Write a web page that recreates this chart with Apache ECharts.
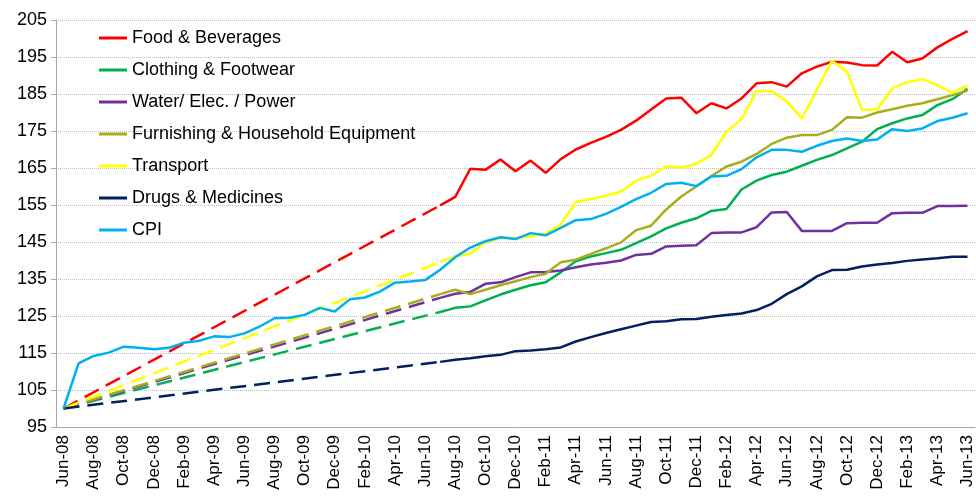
<!DOCTYPE html>
<html>
<head>
<meta charset="utf-8">
<script src="https://cdn.jsdelivr.net/npm/echarts@6/dist/echarts.min.js"></script>
<style>
html,body{margin:0;padding:0;background:#fff;}
#chart{width:976px;height:496px;}
</style>
</head>
<body>
<div id="chart"></div>
<script>
var categories = ["Jun-08","Jul-08","Aug-08","Sep-08","Oct-08","Nov-08","Dec-08","Jan-09","Feb-09","Mar-09","Apr-09","May-09",
"Jun-09","Jul-09","Aug-09","Sep-09","Oct-09","Nov-09","Dec-09","Jan-10","Feb-10","Mar-10","Apr-10","May-10",
"Jun-10","Jul-10","Aug-10","Sep-10","Oct-10","Nov-10","Dec-10","Jan-11","Feb-11","Mar-11","Apr-11","May-11",
"Jun-11","Jul-11","Aug-11","Sep-11","Oct-11","Nov-11","Dec-11","Jan-12","Feb-12","Mar-12","Apr-12","May-12",
"Jun-12","Jul-12","Aug-12","Sep-12","Oct-12","Nov-12","Dec-12","Jan-13","Feb-13","Mar-13","Apr-13","May-13","Jun-13"];

var yTicks = [95,105,115,125,135,145,155,165,175,185,195,205];

// Base value at Jun-08 (dashed link start) and monthly data from Jul-10 to Jun-13
var baseValue = 100;
var firstDataIndex = 25; // Jul-10

var food = [154.9,157.2,164.8,164.5,167.3,164.1,167.0,163.7,167.4,170.0,171.8,173.4,
175.3,177.8,180.8,183.8,184.0,179.8,182.5,181.1,183.8,187.9,188.2,187.0,
190.6,192.4,193.7,193.5,192.8,192.7,196.4,193.6,194.6,197.6,199.9,202.0];

var clothing = [126.1,127.2,127.6,129.2,130.8,132.1,133.3,134.1,136.8,139.8,141.1,142.0,
142.9,144.7,146.5,148.7,150.2,151.4,153.4,153.9,159.2,161.6,163.1,164.0,
165.6,167.2,168.5,170.3,172.1,175.5,177.1,178.4,179.3,182.0,183.6,186.4];

var water = [129.9,131.0,131.5,133.7,134.1,135.5,136.8,136.9,137.3,138.2,138.9,139.4,
140.0,141.5,141.8,143.8,144.0,144.1,147.4,147.6,147.6,149.0,153.0,153.1,
148.0,148.0,148.0,150.1,150.2,150.2,152.8,152.9,152.9,154.7,154.7,154.8];

var furnishing = [130.9,132.1,130.9,132.1,133.3,134.4,135.5,136.4,139.5,140.2,141.8,143.3,
144.9,148.2,149.4,153.8,157.3,160.0,162.8,165.4,166.7,168.8,171.5,173.2,
173.9,173.9,175.3,178.7,178.6,180.0,180.9,181.8,182.5,183.6,184.7,185.9];

var transport = [139.6,141.1,141.8,144.9,146.1,146.1,146.5,147.2,149.7,155.8,156.6,157.5,
158.6,161.6,162.9,165.4,165.1,166.1,168.5,174.8,178.2,185.8,185.8,183.0,
178.4,186.1,194.0,191.0,180.7,180.9,186.5,188.2,189.0,187.4,185.4,187.2];

var drugs = [112.6,113.2,113.6,114.1,114.5,115.5,115.7,116.0,116.5,118.1,119.3,120.4,
121.4,122.4,123.4,123.6,124.1,124.2,124.8,125.3,125.7,126.6,128.3,130.9,
133.0,135.7,137.4,137.5,138.4,138.9,139.3,139.9,140.3,140.6,141.0,141.0];

var cpi = [100,112.2,114.2,115.1,116.7,116.4,116.0,116.4,117.8,118.3,119.5,119.3,
120.3,122.1,124.4,124.5,125.3,127.2,126.2,129.5,130.0,131.6,134.0,134.3,134.7,
137.5,140.9,143.5,145.2,146.3,145.8,147.4,146.8,148.8,150.9,151.2,152.6,
154.5,156.6,158.3,160.7,161.0,160.1,162.7,162.9,164.7,167.9,169.9,169.9,
169.4,171.0,172.3,173.0,172.3,172.7,175.5,175.0,175.7,177.7,178.6,179.8];

var seriesDefs = [
  {name:"Food & Beverages", data:food, color:"#FF0000"},
  {name:"Clothing & Footwear", data:clothing, color:"#00B050"},
  {name:"Water/ Elec. / Power", data:water, color:"#7030A0"},
  {name:"Furnishing & Household Equipment", data:furnishing, color:"#A8AD1E"},
  {name:"Transport", data:transport, color:"#FFFF00"},
  {name:"Drugs & Medicines", data:drugs, color:"#002060"}
];

function solidData(vals){
  var out = [];
  for (var i=0;i<firstDataIndex;i++) out.push(null);
  return out.concat(vals);
}
function dashedData(vals){
  var out = [baseValue];
  for (var i=1;i<firstDataIndex;i++) out.push(null);
  out.push(vals[0]);
  return out;
}

var series = [];
seriesDefs.forEach(function(d){
  series.push({
    name: d.name + " (link)", type:"line", data: dashedData(d.data), connectNulls:true,
    showSymbol:false, symbol:"none", silent:true,
    lineStyle:{color:d.color, width:2.5, type:[16,8]}, itemStyle:{color:d.color}
  });
});
seriesDefs.forEach(function(d){
  series.push({
    name: d.name, type:"line", data: solidData(d.data),
    showSymbol:false, symbol:"none",
    lineStyle:{color:d.color, width:2.5}, itemStyle:{color:d.color}
  });
});
series.push({
  name:"CPI", type:"line", data:cpi, showSymbol:false, symbol:"none",
  lineStyle:{color:"#00B0F0", width:2.5}, itemStyle:{color:"#00B0F0"}
});

var chart = echarts.init(document.getElementById('chart'), null, {renderer:'canvas'});
chart.setOption({
  animation:false,
  backgroundColor:"#fff",
  textStyle:{fontFamily:"Liberation Sans, Arial, sans-serif"},
  grid:{left:56, top:20, width:921, height:407, containLabel:false},
  legend:{
    data: seriesDefs.map(function(d){return d.name;}).concat(["CPI"]),
    orient:"vertical", left:99, top:29, padding:0, itemWidth:28, itemHeight:3, icon:"rect",
    itemGap:14, textStyle:{fontSize:18, color:"#000", fontFamily:"Liberation Sans, Arial, sans-serif"}
  },
  xAxis:{
    type:"category", data:categories, boundaryGap:true,
    axisLine:{lineStyle:{color:"#A6A6A6", width:1}},
    axisTick:{interval:1, length:5, lineStyle:{color:"#A6A6A6"}},
    axisLabel:{interval:1, rotate:90, fontSize:17, color:"#000", margin:8,
      fontFamily:"Liberation Sans, Arial, sans-serif"},
    splitLine:{show:false}
  },
  yAxis:{
    type:"value", min:yTicks[0], max:yTicks[yTicks.length-1], interval:10,
    axisLine:{show:true, lineStyle:{color:"#A6A6A6", width:1}},
    axisTick:{show:true, length:5, lineStyle:{color:"#A6A6A6"}},
    axisLabel:{fontSize:18, color:"#000", margin:9, fontFamily:"Liberation Sans, Arial, sans-serif"},
    splitLine:{show:true, lineStyle:{color:"#BDBDBD", type:"dotted", width:1}}
  },
  series: series
});
</script>
</body>
</html>
